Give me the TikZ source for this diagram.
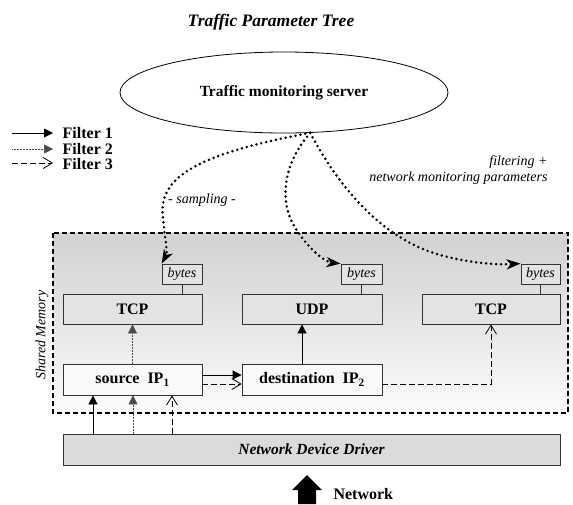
\documentclass[tikz,border=0pt]{standalone}
\usepackage{fontspec}
\setmainfont{Liberation Serif}
\usetikzlibrary{arrows.meta,shapes.geometric}
\begin{document}
\begin{tikzpicture}[x=1pt,y=-1pt,
  bigb/.style={font=\fontsize{16}{19}\selectfont\bfseries},
  smalli/.style={font=\fontsize{14}{16}\selectfont\itshape},
  box/.style={draw=black!80,line width=0.8pt,inner sep=0pt,minimum height=30pt,bigb},
  protobox/.style={box,fill=gray!22},
  ipbox/.style={box,fill=gray!5,minimum height=31pt},
  bytesbox/.style={draw=black!80,line width=0.8pt,inner sep=0pt,minimum height=20pt,fill=gray!22,smalli},
  tipfull/.style={-{Triangle[length=9pt,width=9pt]}},
  tipopen/.style={-{Straight Barb[length=9pt,width=11pt]}},
  fone/.style={line width=0.8pt,black,tipfull},
  ftwo/.style={line width=0.5pt,black!70,densely dotted,tipfull},
  fthree/.style={line width=0.8pt,black,dash pattern=on 6pt off 3pt,tipopen},
  samp/.style={line width=2.8pt,line cap=round,dash pattern=on 0pt off 5pt,
     -{Stealth[length=14pt,width=10pt,inset=4pt]}},
  legtext/.style={bigb,anchor=west,inner sep=0.5pt}
]
\useasboundingbox (0,0) rectangle (573,504);

% title
\node[font=\fontsize{17.5}{20}\selectfont\bfseries\itshape] (title) at (271,22) {Traffic Parameter Tree};

% server
\node[draw,ellipse,line width=0.8pt,minimum width=328pt,minimum height=81pt,inner sep=0pt,
  font=\fontsize{15.5}{18}\selectfont\bfseries] (srv) at (284,92.5) {Traffic monitoring server};

% legend
\coordinate (la1) at (12,133); \coordinate (lb1) at (53,133);
\coordinate (la2) at (12,149); \coordinate (lb2) at (53,149);
\coordinate (la3) at (12,163); \coordinate (lb3) at (53,163);
\draw[fone] (la1) -- (lb1);
\draw[ftwo] (la2) -- (lb2);
\draw[fthree] (la3) -- (lb3);
\node[legtext] (lt1) at (62,133) {Filter 1};
\node[legtext] (lt2) at (62,149) {Filter 2};
\node[legtext] (lt3) at (62,164) {Filter 3};

% shared memory area
\fill[top color=gray!36,bottom color=gray!3] (53,233) rectangle (568,413);
\draw[line width=1.6pt,dash pattern=on 5pt off 3pt] (53,233) rectangle (568,413);
\node[smalli,rotate=90] (shm) at (42,335) {Shared Memory};

% boxes
\node[bytesbox,minimum width=40pt] (b1) at (182,274) {bytes};
\node[bytesbox,minimum width=41pt] (b2) at (361.5,274) {bytes};
\node[bytesbox,minimum width=39pt] (b3) at (540.5,274) {bytes};
\node[protobox,minimum width=139pt] (tcp1) at (132.5,309) {TCP};
\node[protobox,minimum width=140pt] (udp) at (312,309) {UDP};
\node[protobox,minimum width=138pt] (tcp2) at (491,309) {TCP};
\node[ipbox,minimum width=139pt] (src) at (132.5,379.5) {source\ \ IP$_{\mathbf 1}$};
\node[ipbox,minimum width=140pt] (dst) at (312,379.5) {destination\ \ IP$_{\mathbf 2}$};
\node[box,fill=gray!28,minimum width=497pt,minimum height=31pt,
  font=\fontsize{15.5}{18}\selectfont\bfseries\itshape] (drv) at (311.5,449.5) {Network Device Driver};

% byte links
\draw[line width=0.8pt,black!80] (b1.south) -- (b1.south |- tcp1.north);
\draw[line width=0.8pt,black!80] (b2.south) -- (b2.south |- udp.north);
\draw[line width=0.8pt,black!80] (b3.south) -- (b3.south |- tcp2.north);

% filters from driver
\coordinate (x1) at (93,0);
\coordinate (x2) at (133,0);
\coordinate (x3) at (172,0);
\draw[fone] (drv.north -| x1) -- (src.south -| x1);
\draw[ftwo] (drv.north -| x2) -- (src.south -| x2);
\draw[fthree] (drv.north -| x3) -- (src.south -| x3);

\draw[ftwo] (src.north) -- (tcp1.south);
\draw[fone] ([yshift=4.5pt]src.east) -- ([yshift=4.5pt]dst.west);
\draw[fthree] ([yshift=-4.5pt]src.east) -- ([yshift=-4.5pt]dst.west);
\draw[fone] ([xshift=-10pt]dst.north) -- ([xshift=-10pt]dst.north |- udp.south);
\draw[fthree] ([yshift=-4.5pt]dst.east) -| (tcp2.south);

% sampling curves
\draw[samp] (srv.-57) .. controls (190,155) and (158,180) .. (163,218)
   .. controls (165,240) and (168,252) .. (b1.north west);
\draw[samp] (srv.-57) .. controls (282,165) and (278,205) .. (298,232)
   .. controls (310,250) and (325,262) .. (b2.north west);
\draw[samp] (srv.-57) .. controls (338,185) and (380,238) .. (440,255)
   .. controls (470,263) and (495,265) .. (b3.north west);

\node[smalli] (lsamp) at (202,200) {- sampling -};
\node[smalli,align=right,anchor=east] (lfilt) at (551,170) {filtering +\\network monitoring parameters};

% network arrow
\coordinate (n1) at (298,504); \coordinate (n2) at (316,504);
\fill (n1) -- (298,490) -- (292,490) -- (307,475) -- (322,490) -- (316,490) -- (n2) -- cycle;
\node[bigb,anchor=west] (net) at (330,494) {Network};
\end{tikzpicture}
\end{document}
